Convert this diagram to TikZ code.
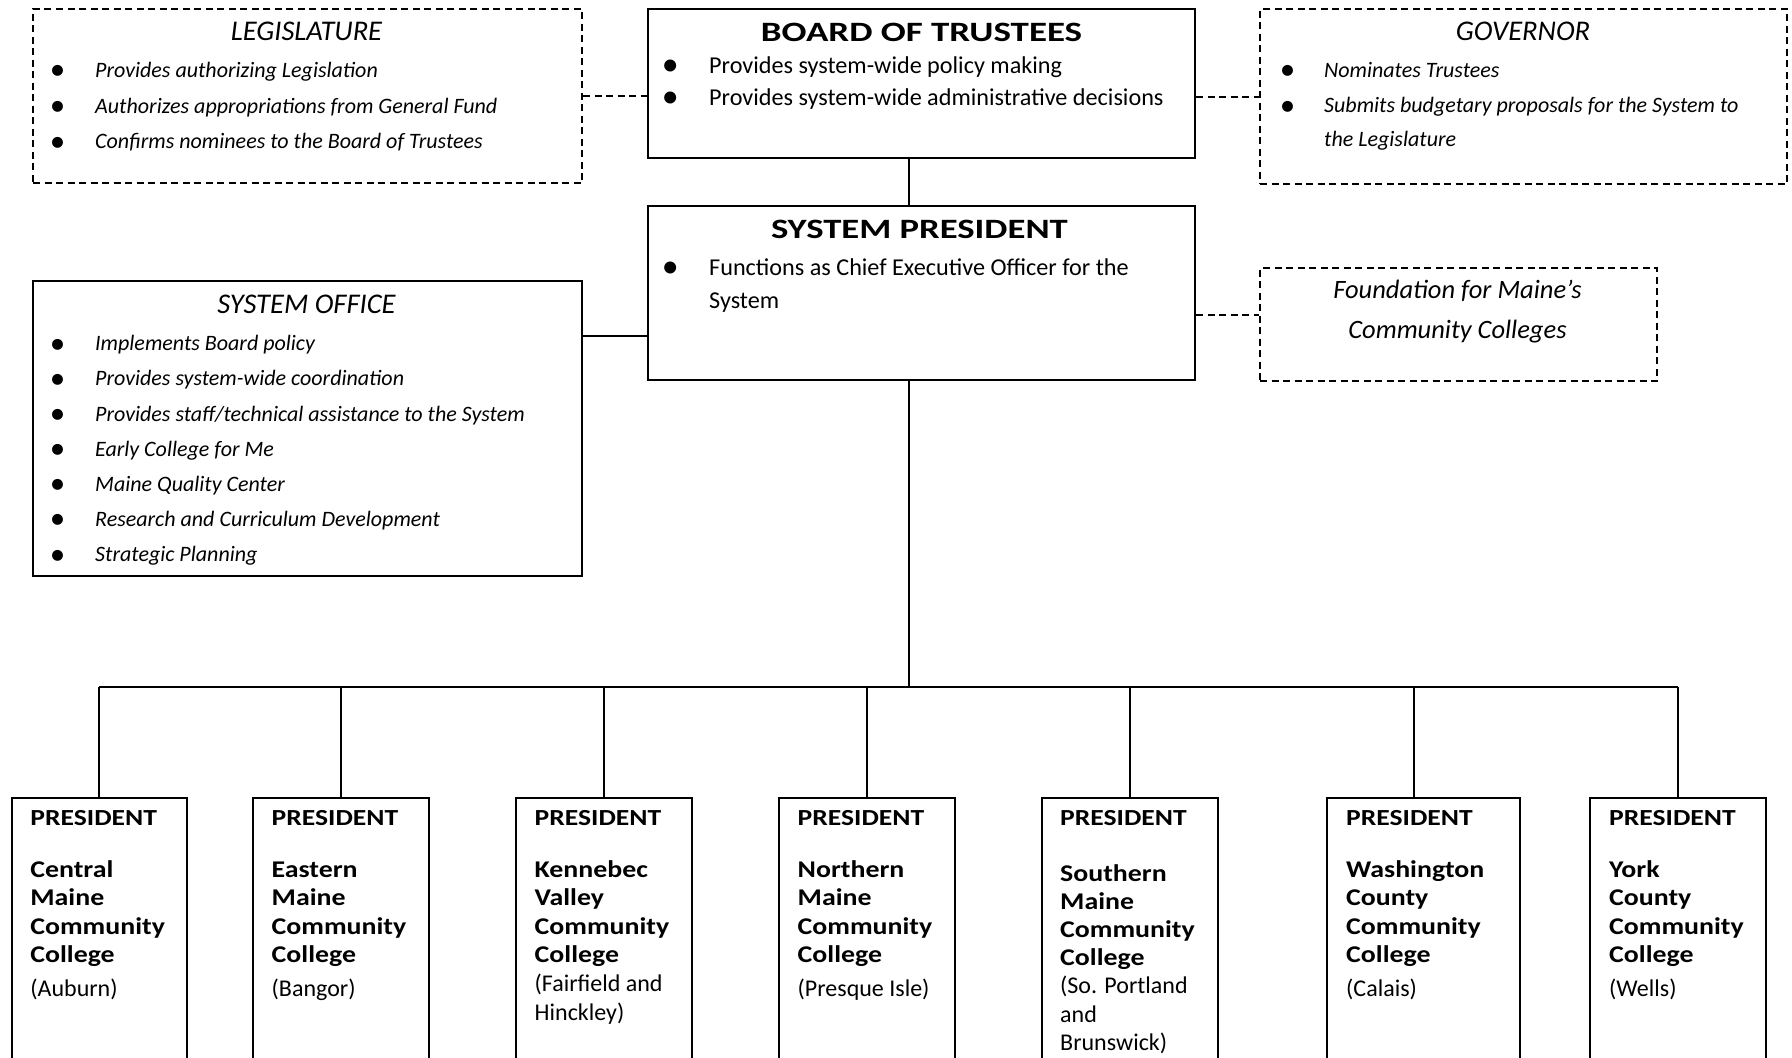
\documentclass[tikz,border=0pt]{standalone}
\usepackage{fontspec}
\usepackage{graphicx}
\setmainfont{Carlito}
\usetikzlibrary{calc}
% bullet line: bullet centred at the node point, text after #1
\newcommand\bigbullet{\raisebox{-0.11em}{\scalebox{1.4}{\textbullet}}}
\newcommand\bl[2]{\hbox{\hbox to 0pt{\hss\bigbullet\hss}\hskip#1\relax #2}}
\newcommand\presline{\hbox{\fontsize{23}{28}\selectfont\bfseries\scalebox{1.2}[1]{PRESIDENT}}}
\newcommand\nm[1]{\hbox{\fontsize{24}{28}\selectfont\bfseries\scalebox{1.16}[1]{#1}}}
\newcommand\rg[1]{\hbox{\fontsize{24}{28}\selectfont #1}}
% #1 gap after PRESIDENT, #2 name lines, #3 gap before place lines, #4 place lines
\newcommand\ctext[4]{\vtop{\baselineskip=28.3pt\lineskiplimit=-100pt\lineskip=0pt\presline\vskip#1\relax #2\vskip#3\relax #4}}
\begin{document}
\begin{tikzpicture}[x=1pt,y=-1pt,
  box/.style={draw, line width=2.3pt, inner sep=0pt, anchor=north west},
  dbox/.style={draw, line width=2pt, dash pattern=on 7pt off 4.5pt, inner sep=0pt, anchor=north west},
  cbox/.style={draw, line width=2.3pt, inner sep=0pt, anchor=north west, minimum height=290pt},
  txt/.style={inner sep=0pt, anchor=base west},
  ctxt/.style={inner sep=0pt, anchor=base},
  ititle/.style={font=\fontsize{28.5}{30}\selectfont\itshape},
  link/.style={line width=2pt},
  dlink/.style={line width=2pt, dash pattern=on 7pt off 4.5pt}]
\useasboundingbox (0,0) rectangle (1792,1058);
\clip (0,0) rectangle (1792,1058);
\fill[white] (0,0) rectangle (1792,1058);

% ---------- boxes ----------
\node[dbox, minimum width=549pt, minimum height=174pt] (leg) at (32,8) {};
\node[box,  minimum width=547pt, minimum height=149pt] (board) at (647,8) {};
\node[dbox, minimum width=527pt, minimum height=175pt] (gov) at (1259,8) {};
\node[box,  minimum width=547pt, minimum height=174pt] (sp) at (647,205) {};
\node[box,  minimum width=549pt, minimum height=295pt] (so) at (32,280) {};
\node[dbox, minimum width=397pt, minimum height=113pt] (fnd) at (1259,267) {};

\node[cbox, minimum width=175pt]   (c1) at (10.7,797) {};
\node[cbox, minimum width=176pt]   (c2) at (252,797) {};
\node[cbox, minimum width=175.5pt] (c3) at (515,797) {};
\node[cbox, minimum width=175.5pt] (c4) at (778,797) {};
\node[cbox, minimum width=176.5pt] (c5) at (1040.5,797) {};
\node[cbox, minimum width=193.5pt] (c6) at (1325.5,797) {};
\node[cbox, minimum width=176pt]   (c7) at (1589,797) {};

% ---------- connectors ----------
\coordinate (trunk) at (909,687);
\coordinate (sop) at (600,336);
\coordinate (spf) at (1220,315);
\coordinate (d6) at (1414,797);
\draw[dlink] (leg.east) -- (leg.east -| board.west);
\draw[dlink] (gov.west -| board.east) -- (gov.west);
\draw[link] (board.south -| trunk) -- (sp.north -| trunk);
\draw[link] (so.east |- sop) -- (sp.west |- sop);
\draw[dlink] (sp.east |- spf) -- (fnd.west |- spf);
\draw[link] (sp.south -| trunk) -- (trunk);
\draw[link] (trunk -| c1.north) -- (trunk -| c7.north);
\foreach \c in {c1,c2,c3,c4,c5,c7} \draw[link] (trunk -| \c.north) -- (\c.north);
\draw[link] (trunk -| d6) -- (d6);

% ---------- texts ----------
\node[ctxt, ititle] (legt) at (306.5,40.7) {LEGISLATURE};
\node[txt] (legb) at (57,77.3) {\vtop{\fontsize{22}{35.8}\selectfont\itshape\lineskiplimit=-100pt
  \bl{38pt}{Provides authorizing Legislation}
  \bl{38pt}{Authorizes appropriations from General Fund}
  \bl{38pt}{Confirms nominees to the Board of Trustees}}};

\node[ctxt] (boardt) at (921.5,41.7) {\fontsize{28}{30}\selectfont\bfseries\scalebox{1.32}[1]{BOARD OF TRUSTEES}};
\node[txt] (boardb) at (670,73.3) {\vtop{\fontsize{24.2}{31.7}\selectfont\lineskiplimit=-100pt
  \bl{39pt}{Provides system-wide policy making}
  \bl{39pt}{Provides system-wide administrative decisions}}};

\node[ctxt, ititle] (govt) at (1523,40) {GOVERNOR};
\node[txt] (govb) at (1287,77.3) {\vtop{\fontsize{22}{35.5}\selectfont\itshape\lineskiplimit=-100pt
  \bl{37pt}{Nominates Trustees}
  \bl{37pt}{Submits budgetary proposals for the System to}\vskip-2pt
  \hbox{\hskip37pt the Legislature}}};

\node[ctxt] (spt) at (919.4,238.3) {\fontsize{28}{30}\selectfont\bfseries\scalebox{1.31}[1]{SYSTEM PRESIDENT}};
\node[txt] (spb) at (670,275) {\vtop{\fontsize{24.2}{33.3}\selectfont\lineskiplimit=-100pt
  \bl{39pt}{Functions as Chief Executive Officer for the}
  \hbox{\hskip39pt System}}};

\node[ctxt, ititle] (sot) at (306.5,313.3) {SYSTEM OFFICE};
\node[txt] (sob) at (57,350.7) {\vtop{\fontsize{22}{35.15}\selectfont\itshape\lineskiplimit=-100pt
  \bl{38pt}{Implements Board policy}
  \bl{38pt}{Provides system-wide coordination}
  \bl{38pt}{Provides staff/technical assistance to the System}
  \bl{38pt}{Early College for Me}
  \bl{38pt}{Maine Quality Center}
  \bl{38pt}{Research and Curriculum Development}
  \bl{38pt}{Strategic Planning}}};

\node[ctxt, font=\fontsize{26.5}{30}\selectfont\itshape] (fnd1) at (1457.5,298.3) {Foundation for Maine’s};
\node[ctxt, font=\fontsize{26.5}{30}\selectfont\itshape] (fnd2) at (1457.5,338.3) {Community Colleges};

\node[txt] (c1t) at (30.2,825) {\ctext{24.3pt}{\nm{Central}\nm{Maine}\nm{Community}\nm{College}}{5.5pt}{\rg{(Auburn)}}};
\node[txt] (c2t) at (271.5,825) {\ctext{24.3pt}{\nm{Eastern}\nm{Maine}\nm{Community}\nm{College}}{5.5pt}{\rg{(Bangor)}}};
\node[txt] (c3t) at (534.5,825) {\ctext{24.3pt}{\nm{Kennebec}\nm{Valley}\nm{Community}\nm{College}}{1pt}{\rg{(Fairfield and}\rg{Hinckley)}}};
\node[txt] (c4t) at (797.5,825) {\ctext{24.3pt}{\nm{Northern}\nm{Maine}\nm{Community}\nm{College}}{5.5pt}{\rg{(Presque Isle)}}};
\node[txt] (c5t) at (1060,825) {\ctext{27.7pt}{\nm{Southern}\nm{Maine}\nm{Community}\nm{College}}{-0.5pt}{\rg{(So. Portland}\rg{and}\rg{Brunswick)}}};
\node[txt] (c6t) at (1346,825) {\ctext{24.3pt}{\nm{Washington}\nm{County}\nm{Community}\nm{College}}{5.5pt}{\rg{(Calais)}}};
\node[txt] (c7t) at (1609,825) {\ctext{24.3pt}{\nm{York}\nm{County}\nm{Community}\nm{College}}{5.5pt}{\rg{(Wells)}}};
\end{tikzpicture}
\end{document}
